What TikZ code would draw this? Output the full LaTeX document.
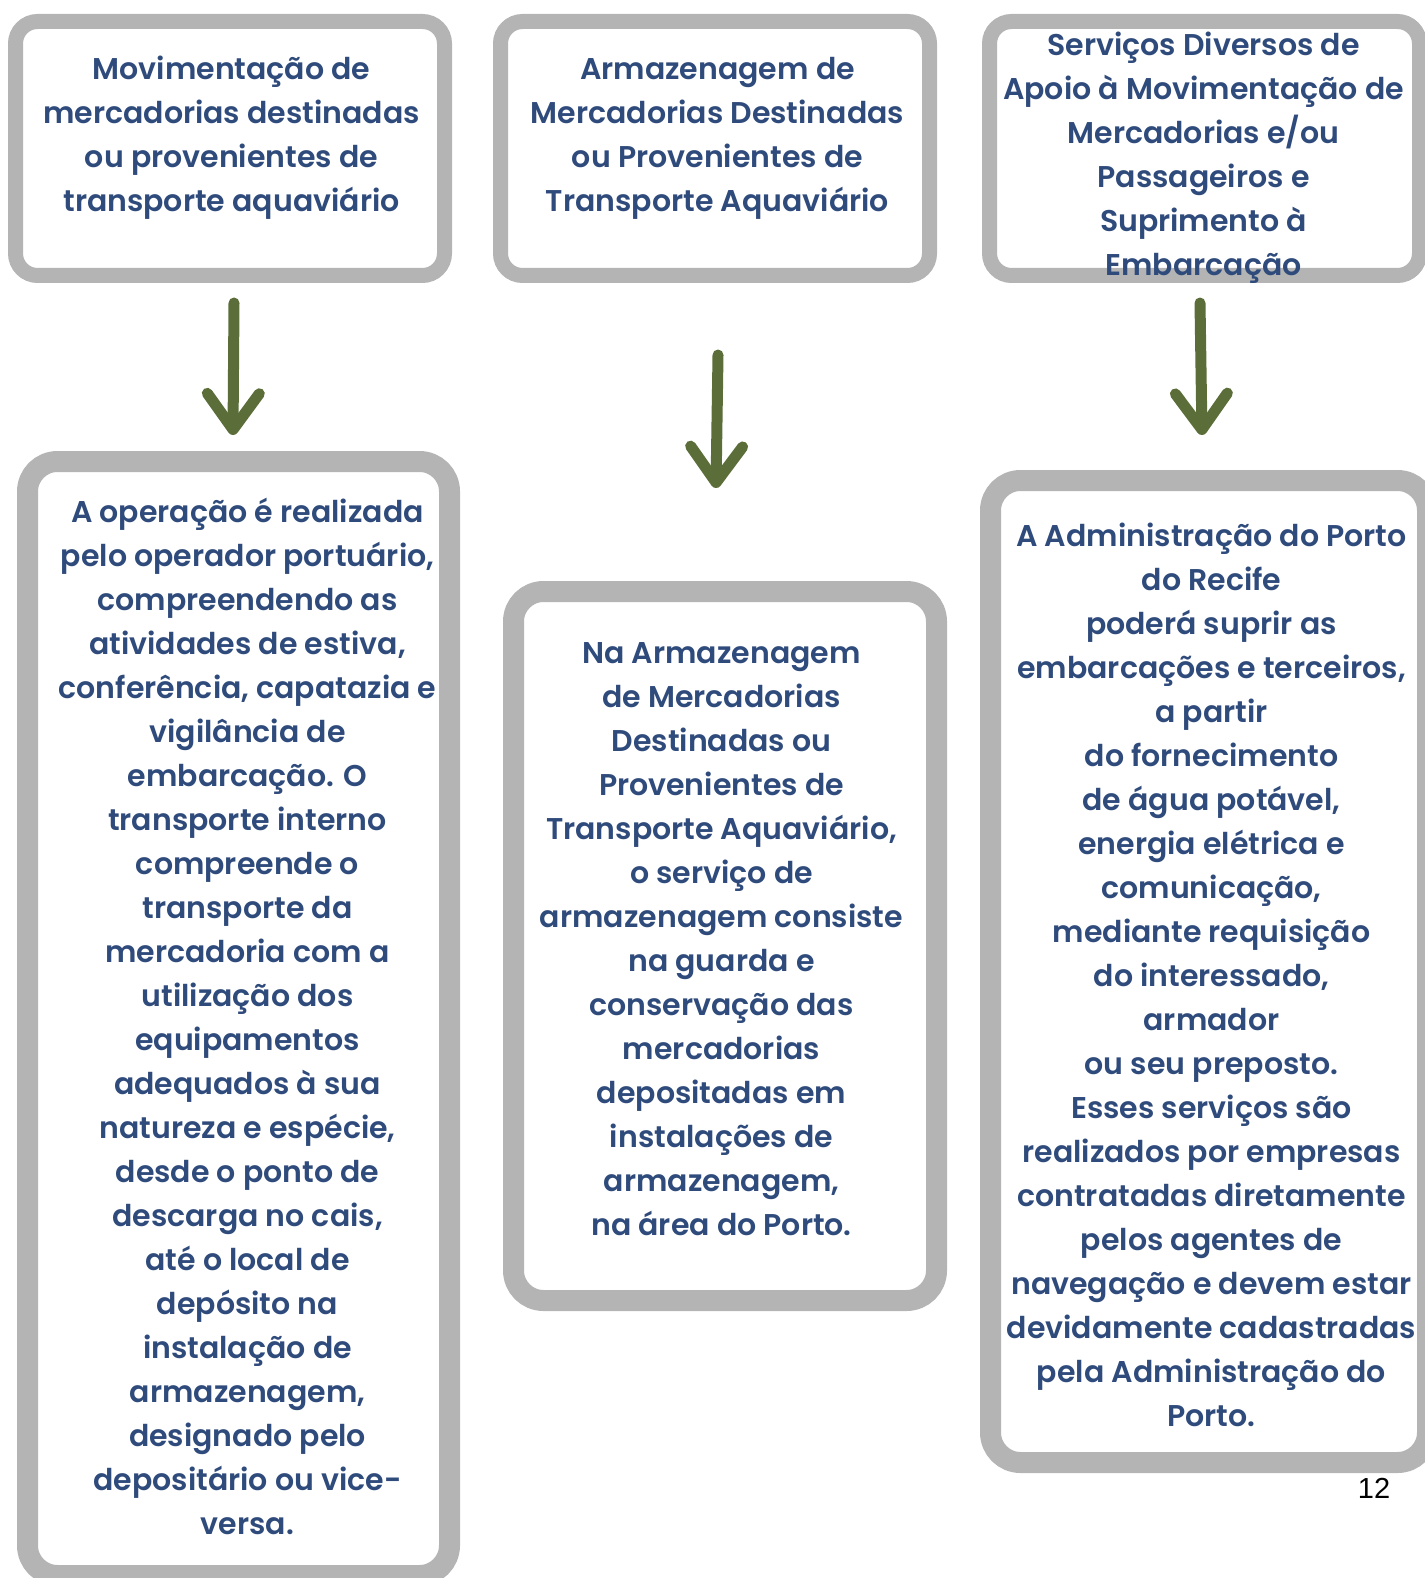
\documentclass[tikz,border=0pt]{standalone}
\usepackage{fontspec}
\usetikzlibrary{arrows.meta}
\newfontfamily\boxfont{Poppins SemiBold}
\newfontfamily\numfont{Liberation Sans}
\definecolor{txtblue}{HTML}{2F4B7C}
\definecolor{frame}{HTML}{B4B4B4}
\definecolor{arrowgreen}{HTML}{5B6E3A}
\tikzset{
  x=1pt, y=-1pt,
  smallbox/.style={draw=frame, fill=white, line width=15pt, rounded corners=22pt, inner sep=0pt, minimum width=429pt, minimum height=254pt},
  bigbox/.style={draw=frame, fill=white, line width=21pt, rounded corners=30pt, inner sep=0pt},
  boxtext/.style={text=txtblue, align=center, inner sep=0pt, font=\boxfont\fontsize{30}{44}\selectfont},
  flowarrow/.style={draw=arrowgreen, line width=11pt, line cap=round, -{Straight Barb[length=36pt, width=52pt, round]}}
}
\begin{document}
\begin{tikzpicture}
\useasboundingbox (0,0) rectangle (1424,1578);
% top boxes
\node[smallbox] (b1) at (230,148.5) {};
\node[smallbox] (b2) at (715,148.5) {};
\node[smallbox, minimum width=430pt] (b3) at (1204.5,148.5) {};
% bottom boxes
\node[bigbox, minimum width=422pt, minimum height=1114pt] (b4) at (238.5,1018.5) {};
\node[bigbox, minimum width=423pt, minimum height=709pt] (b5) at (725,946) {};
\node[bigbox, minimum width=437pt, minimum height=982pt] (b6) at (1209,971.5) {};
% texts
\node[boxtext] (t1) at (231.5,138) {Movimentação de\\mercadorias destinadas\\ou provenientes de\\transporte aquaviário};
\node[boxtext] (t2) at (717.5,138) {Armazenagem de\\Mercadorias Destinadas\\ou Provenientes de\\Transporte Aquaviário};
\node[boxtext] (t3) at (1203.5,158) {Serviços Diversos de\\Apoio à Movimentação de\\Mercadorias e/ou\\Passageiros e\\Suprimento à\\Embarcação};
\node[boxtext] (t4) at (247.5,1016) {A operação é realizada\\pelo operador portuário,\\compreendendo as\\atividades de estiva,\\conferência, capatazia e\\vigilância de\\embarcação. O\\transporte interno\\compreende o\\transporte da\\mercadoria com a\\utilização dos\\equipamentos\\adequados à sua\\natureza e espécie,\\desde o ponto de\\descarga no cais,\\até o local de\\depósito na\\instalação de\\armazenagem,\\designado pelo\\depositário ou vice-\\versa.};
\node[boxtext] (t5) at (721.5,939) {Na Armazenagem\\de Mercadorias\\Destinadas ou\\Provenientes de\\Transporte Aquaviário,\\o serviço de\\armazenagem consiste\\na guarda e\\conservação das\\mercadorias\\depositadas em\\instalações de\\armazenagem,\\na área do Porto.};
\node[boxtext] (t6) at (1211.5,975) {A Administração do Porto\\do Recife\\poderá suprir as\\embarcações e terceiros,\\a partir\\do fornecimento\\de água potável,\\energia elétrica e\\comunicação,\\mediante requisição\\do interessado,\\armador\\ou seu preposto.\\Esses serviços são\\realizados por empresas\\contratadas diretamente\\pelos agentes de\\navegação e devem estar\\devidamente cadastradas\\pela Administração do\\Porto.};
% arrows
\coordinate (a1s) at (234,303);
\coordinate (a1e) at (233,435);
\coordinate (a2s) at (718,355);
\coordinate (a2e) at (716,488);
\coordinate (a3s) at (1200,303);
\coordinate (a3e) at (1202,435);
\draw[flowarrow] (a1s) -- (a1e);
\draw[flowarrow] (a2s) -- (a2e);
\draw[flowarrow] (a3s) -- (a3e);
% page number
\node[font=\numfont\fontsize{29}{32}\selectfont, text=black, inner sep=0pt] (pg) at (1374,1488) {12};
\end{tikzpicture}
\end{document}
